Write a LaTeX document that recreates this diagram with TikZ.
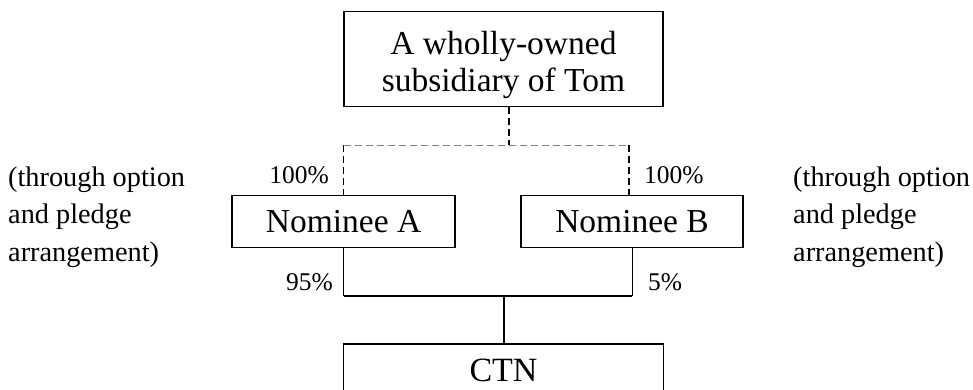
\documentclass[tikz,border=0pt]{standalone}
\usepackage{fontspec}
\setmainfont{Liberation Serif}
\usetikzlibrary{calc}
\tikzset{
  boxnode/.style={draw, line width=1.3pt, inner xsep=0pt, inner ysep=0pt, anchor=north},
  bigtext/.style={font=\fontsize{33.5}{37}\selectfont},
  pctlabel/.style={inner sep=0pt, font=\fontsize{25.5}{30}\selectfont},
  notelabel/.style={inner sep=0pt, anchor=base west, font=\fontsize{28.3}{37.5}\selectfont},
  dashdark/.style={line width=1.3pt, dash pattern=on 7pt off 4pt},
  dashgray/.style={line width=1.3pt, black!50, dash pattern=on 7pt off 4pt},
  linkline/.style={line width=1pt}
}
\begin{document}
\begin{tikzpicture}[x=1pt,y=-1pt]
\useasboundingbox (0,0) rectangle (973,389);
\clip (0,0) rectangle (973,389);
\fill[white] (0,0) rectangle (973,389);

\node[boxnode, bigtext, minimum width=319pt, text height=43pt, text depth=52pt] (top) at (503.5,11)
  {\begin{tabular}[t]{@{}c@{}}A wholly-owned\\subsidiary of Tom\end{tabular}};
\node[boxnode, bigtext, minimum width=223pt, text height=37pt, text depth=15pt] (noma) at (343.5,195) {Nominee A};
\node[boxnode, bigtext, minimum width=222pt, text height=37pt, text depth=15pt] (nomb) at (632,195) {Nominee B};
\node[boxnode, draw=none, font=\fontsize{34}{40}\selectfont, minimum width=319pt, text height=37pt, text depth=4pt] (ctn) at (503.5,344) {CTN};
\draw[line width=1.3pt] ($(ctn.south west)+(0,12)$) -- (ctn.north west) -- (ctn.north east) -- ($(ctn.south east)+(0,12)$);

% dashed ownership lines
\coordinate (split) at ($(top.south)+(5.5,38)$);
\coordinate (la) at (noma.north |- split);
\coordinate (lb) at ($(nomb.north |- split)+(-3,0)$);
\draw[dashdark] ($(top.south)+(5.5,0)$) -- (split);
\draw[dashgray] (la) -- (lb);
\draw[dashdark] (la) -- (noma.north);
\draw[dashdark] (lb) -- ($(nomb.north)+(-3,0)$);

% solid lines to CTN
\coordinate (join) at (503.5,296);
\draw[linkline] (noma.south) -- (noma.south |- join);
\draw[line width=1.3pt] (noma.south |- join) -- (nomb.south |- join);
\draw[linkline] (nomb.south) -- (nomb.south |- join);
\draw[line width=2pt] (join) -- (ctn.north);

% percentages
\node[pctlabel, anchor=base east] (pa) at (329,183) {100\%};
\node[pctlabel, anchor=base west] (pb) at (644,183) {100\%};
\node[pctlabel, anchor=base east] (pc) at (333,290) {95\%};
\node[pctlabel, anchor=base west] (pd) at (648,290) {5\%};

% notes
\node[notelabel] (notel) at (8,186)
  {\begin{tabular}[t]{@{}l@{}}(through option\\and pledge\\arrangement)\end{tabular}};
\node[notelabel] (noter) at (793,186)
  {\begin{tabular}[t]{@{}l@{}}(through option\\and pledge\\arrangement)\end{tabular}};
\end{tikzpicture}
\end{document}
